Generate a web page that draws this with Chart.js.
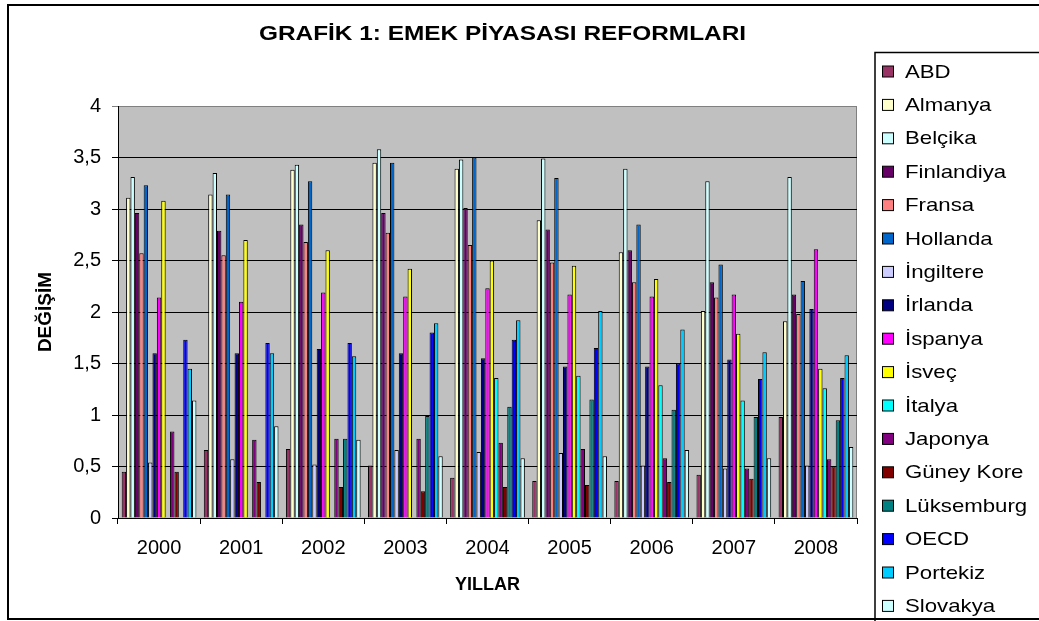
<!DOCTYPE html>
<html>
<head>
<meta charset="utf-8">
<script src="https://cdn.jsdelivr.net/npm/chart.js@4.4.1/dist/chart.umd.min.js"></script>
<style>
  html, body { margin: 0; padding: 0; background: #fff; }
  canvas { display: block; }
</style>
</head>
<body>
<canvas id="grafik" width="1039" height="621"></canvas>
<script>
const yillar = ["2000", "2001", "2002", "2003", "2004", "2005", "2006", "2007", "2008"];

const abd        = [0.45, 0.66, 0.67, 0.51, 0.39, 0.36, 0.36, 0.42, 0.98];
const almanya    = [3.11, 3.14, 3.38, 3.45, 3.39, 2.89, 2.58, 2.01, 1.91];
const belcika    = [3.31, 3.35, 3.43, 3.58, 3.48, 3.49, 3.39, 3.27, 3.31];
const finlandiya = [2.96, 2.79, 2.85, 2.96, 3.01, 2.80, 2.60, 2.29, 2.17];
const fransa     = [2.57, 2.55, 2.68, 2.77, 2.65, 2.48, 2.29, 2.14, 1.98];
const hollanda   = [3.23, 3.14, 3.27, 3.45, 3.50, 3.30, 2.85, 2.46, 2.30];
const ingiltere  = [0.54, 0.57, 0.52, 0.66, 0.64, 0.63, 0.51, 0.48, 0.51];
const irlanda    = [1.60, 1.60, 1.64, 1.60, 1.55, 1.47, 1.47, 1.54, 2.03];
const ispanya    = [2.14, 2.10, 2.19, 2.15, 2.23, 2.17, 2.15, 2.17, 2.61];
const isvec      = [3.08, 2.70, 2.60, 2.42, 2.50, 2.45, 2.32, 1.79, 1.45];
const italya     = [null, null, null, null, 1.36, 1.38, 1.29, 1.14, 1.26];
const japonya    = [0.84, 0.76, 0.77, 0.77, 0.73, 0.67, 0.58, 0.48, 0.57];
const guneyKore  = [0.45, 0.35, 0.30, 0.26, 0.30, 0.32, 0.35, 0.38, 0.50];
const luksemburg = [null, null, 0.77, 0.99, 1.08, 1.15, 1.05, 0.98, 0.95];
const oecd       = [1.73, 1.70, 1.70, 1.80, 1.73, 1.65, 1.50, 1.35, 1.36];
const portekiz   = [1.45, 1.60, 1.57, 1.89, 1.92, 2.01, 1.83, 1.61, 1.58];
const slovakya   = [1.14, 0.89, 0.76, 0.60, 0.58, 0.60, 0.66, 0.58, 0.69];

const seriler = [
    ["ABD", abd, "#993366"],
    ["Almanya", almanya, "#FFFFCC"],
    ["Belçika", belcika, "#CCFFFF"],
    ["Finlandiya", finlandiya, "#660066"],
    ["Fransa", fransa, "#FF8080"],
    ["Hollanda", hollanda, "#0066CC"],
    ["İngiltere", ingiltere, "#CCCCFF"],
    ["İrlanda", irlanda, "#000080"],
    ["İspanya", ispanya, "#FF00FF"],
    ["İsveç", isvec, "#FFFF00"],
    ["İtalya", italya, "#00FFFF"],
    ["Japonya", japonya, "#800080"],
    ["Güney Kore", guneyKore, "#800000"],
    ["Lüksemburg", luksemburg, "#008080"],
    ["OECD", oecd, "#0000FF"],
    ["Portekiz", portekiz, "#00CCFF"],
    ["Slovakya", slovakya, "#CCFFFF"],
];

const FONT = "'Liberation Sans', Arial, sans-serif";

const datasets = seriler.map(([label, data, renk]) => ({
    label,
    data,
    backgroundColor: renk,
    borderColor: "#000",
    borderWidth: 1,
}));

// cerceve, gri alan, baslik ve lejant
const cerceve = {
    id: "cerceve",
    beforeDraw(chart) {
        const { ctx, chartArea: a } = chart;
        ctx.save();
        ctx.fillStyle = "#fff";
        ctx.fillRect(0, 0, chart.width, chart.height);
        ctx.fillStyle = "#C0C0C0";
        ctx.fillRect(a.left, a.top, a.right - a.left, a.bottom - a.top);
        ctx.strokeStyle = "#808080";
        ctx.lineWidth = 1;
        ctx.strokeRect(a.left + 0.5, a.top + 0.5, a.right - a.left - 1, a.bottom - a.top);
        ctx.restore();
    },
    afterDraw(chart) {
        const { ctx } = chart;
        ctx.save();
        ctx.strokeStyle = "#000";
        ctx.lineWidth = 2;
        ctx.strokeRect(8, 5, 1040, 614);

        // baslik
        ctx.fillStyle = "#000";
        ctx.font = "bold 20px " + FONT;
        ctx.textAlign = "center";
        ctx.textBaseline = "middle";
        ctx.translate(502.5, 34);
        ctx.scale(1.22, 1);
        ctx.fillText("GRAFİK 1: EMEK PİYASASI REFORMLARI", 0, 0);
        ctx.restore();

        // lejant
        ctx.save();
        ctx.strokeStyle = "#000";
        ctx.lineWidth = 1.5;
        ctx.strokeRect(875, 52.5, 170, 570);
        ctx.font = "18.5px " + FONT;
        ctx.textBaseline = "middle";
        ctx.textAlign = "left";
        chart.data.datasets.forEach((ds, i) => {
            const y = 71.5 + i * 33.4;
            ctx.fillStyle = ds.backgroundColor;
            ctx.fillRect(882.5, y - 5.5, 11, 11);
            ctx.lineWidth = 1;
            ctx.strokeRect(882.5, y - 5.5, 11, 11);
            ctx.save();
            ctx.translate(905, y + 1);
            ctx.scale(1.2, 1);
            ctx.fillStyle = "#000";
            ctx.fillText(ds.label, 0, 0);
            ctx.restore();
        });
        ctx.restore();
    },
};

new Chart(document.getElementById("grafik"), {
    type: "bar",
    data: { labels: yillar, datasets },
    plugins: [cerceve],
    options: {
        responsive: false,
        animation: false,
        layout: { padding: { top: 106, right: 182, left: 0, bottom: 0 } },
        datasets: {
            bar: { categoryPercentage: 0.91, barPercentage: 1 },
        },
        plugins: {
            legend: { display: false },
            tooltip: { enabled: false },
        },
        scales: {
            x: {
                afterFit: (s) => { s.height = 103; },
                grid: {
                    offset: true,
                    drawOnChartArea: false,
                    color: "#000",
                    tickLength: 6,
                },
                border: { color: "#000" },
                ticks: { color: "#000", font: { family: FONT, size: 20 }, padding: 12 },
                title: {
                    display: true,
                    text: "YILLAR",
                    color: "#000",
                    font: { family: FONT, size: 18, weight: "bold" },
                    padding: { bottom: 25 },
                },
            },
            y: {
                min: 0,
                max: 4,
                afterFit: (s) => { s.width = 118; },
                grid: {
                    color: (c) => (c.tick && c.tick.value === 4 ? "#808080" : "#000"),
                    tickLength: 6,
                },
                border: { color: "#000" },
                ticks: {
                    stepSize: 0.5,
                    color: "#000",
                    font: { family: FONT, size: 20 },
                    padding: 11,
                    callback: (v) => v.toString().replace(".", ","),
                },
                title: {
                    display: true,
                    text: "DEĞİŞİM",
                    color: "#000",
                    font: { family: FONT, size: 19, weight: "bold" },
                    padding: { top: 34 },
                },
            },
        },
    },
});
</script>
</body>
</html>
